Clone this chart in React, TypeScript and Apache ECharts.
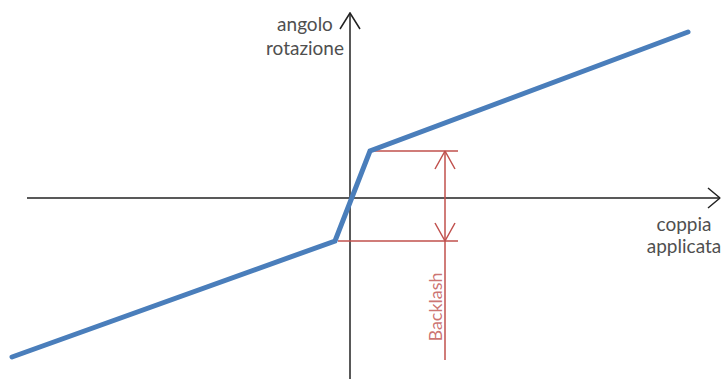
import React, { useEffect, useRef } from "react";
import * as echarts from "echarts";

// Torque (x) against rotation angle (y), arbitrary units
const curveTorque = [-33.8, -1.5, 2.0, 33.8];
const curveAngle = [-15.9, -4.3, 4.7, 16.6];

// Backlash dimension: the two knee heights and the dimension line
const backlashTop = 4.7;
const backlashBottom = -4.3;
const bandTopX = [2.2, 10.8];
const bandBottomX = [-1.2, 10.8];
const dimensionX = 9.5;
const dimensionEndY = -16.2;
const arrowArmDX = 1.0;
const arrowArmDY = 1.8;
const backlashLabelAt = [8.5, -10.9];
const backlashLabel = "Backlash";

// Plot extents, the drawn torque axis and the arrow heads
const xRange = [-33.8, 37.0];
const yRange = [-18.1, 18.5];
const torqueAxisStart = -32.3;
const xArrowArm = [1.2, 1.0];
const yArrowArm = [1.0, 1.6];

const yAxisTitle = "angolo\nrotazione";
const xAxisTitle = "coppia\napplicata";

const BLUE = "#4a7ebb";
const RED = "#c0504d";
const AXIS = "#222222";
const TEXT = "#4f4f4f";
const FONT = "Lato, 'Open Sans', sans-serif";

function lineSeries(points: number[][], color: string, width: number, extra: any = {}) {
  return {
    type: "line",
    data: points,
    symbol: "none",
    clip: false,
    silent: true,
    lineStyle: { color, width, ...extra },
  };
}

export default function App() {
  const ref = useRef<HTMLDivElement>(null);

  useEffect(() => {
    if (!ref.current) return;
    const chart = echarts.init(ref.current, undefined, { renderer: "svg" });

    const curve = curveTorque.map((x, i) => [x, curveAngle[i]]);
    const torqueAxis = [
      [torqueAxisStart, 0],
      [xRange[1], 0],
    ];
    const topBand = bandTopX.map((x) => [x, backlashTop]);
    const bottomBand = bandBottomX.map((x) => [x, backlashBottom]);
    const dimension = [
      [dimensionX, backlashTop],
      [dimensionX, dimensionEndY],
    ];
    const topHead = [
      [dimensionX - arrowArmDX, backlashTop - arrowArmDY],
      [dimensionX, backlashTop],
      [dimensionX + arrowArmDX, backlashTop - arrowArmDY],
    ];
    const bottomHead = [
      [dimensionX - arrowArmDX, backlashBottom + arrowArmDY],
      [dimensionX, backlashBottom],
      [dimensionX + arrowArmDX, backlashBottom + arrowArmDY],
    ];
    const xHead = [
      [xRange[1] - xArrowArm[0], xArrowArm[1]],
      [xRange[1], 0],
      [xRange[1] - xArrowArm[0], -xArrowArm[1]],
    ];
    const yHead = [
      [-yArrowArm[0], yRange[1] - yArrowArm[1]],
      [0, yRange[1]],
      [yArrowArm[0], yRange[1] - yArrowArm[1]],
    ];

    const bareAxis = {
      type: "value",
      axisTick: { show: false },
      axisLabel: { show: false },
      splitLine: { show: false },
    };

    chart.setOption({
      animation: false,
      grid: { left: 12, right: 7, top: 13, bottom: 0 },
      xAxis: { ...bareAxis, min: xRange[0], max: xRange[1], axisLine: { show: false } },
      yAxis: {
        ...bareAxis,
        min: yRange[0],
        max: yRange[1],
        axisLine: { show: true, onZero: true, lineStyle: { color: AXIS, width: 1.5 } },
      },
      series: [
        lineSeries(torqueAxis, AXIS, 1.5),
        lineSeries(xHead, AXIS, 1.5),
        lineSeries(yHead, AXIS, 1.5),
        lineSeries(topBand, RED, 1.5),
        lineSeries(bottomBand, RED, 1.5),
        lineSeries(dimension, RED, 1.5),
        lineSeries(topHead, RED, 1.5),
        lineSeries(bottomHead, RED, 1.5),
        lineSeries(curve, BLUE, 5, { cap: "round", join: "miter" }),
        {
          type: "scatter",
          data: [backlashLabelAt],
          symbolSize: 0,
          silent: true,
          label: {
            show: true,
            position: "inside",
            rotate: 90,
            formatter: backlashLabel,
            color: RED,
            fontSize: 18,
            fontFamily: FONT,
          },
        },
      ],
      graphic: [
        {
          type: "text",
          x: 305,
          y: 11,
          style: {
            text: yAxisTitle,
            textAlign: "center",
            textVerticalAlign: "top",
            fill: TEXT,
            fontSize: 19,
            fontFamily: FONT,
            lineHeight: 24,
          },
        },
        {
          type: "text",
          x: 684,
          y: 212,
          style: {
            text: xAxisTitle,
            textAlign: "center",
            textVerticalAlign: "top",
            fill: TEXT,
            fontSize: 19,
            fontFamily: FONT,
            lineHeight: 22,
          },
        },
      ],
    });

    return () => chart.dispose();
  }, []);

  return (
    <div
      ref={ref}
      style={{ position: "absolute", left: 0, top: 0, width: 727, height: 379, background: "#fff" }}
    />
  );
}
